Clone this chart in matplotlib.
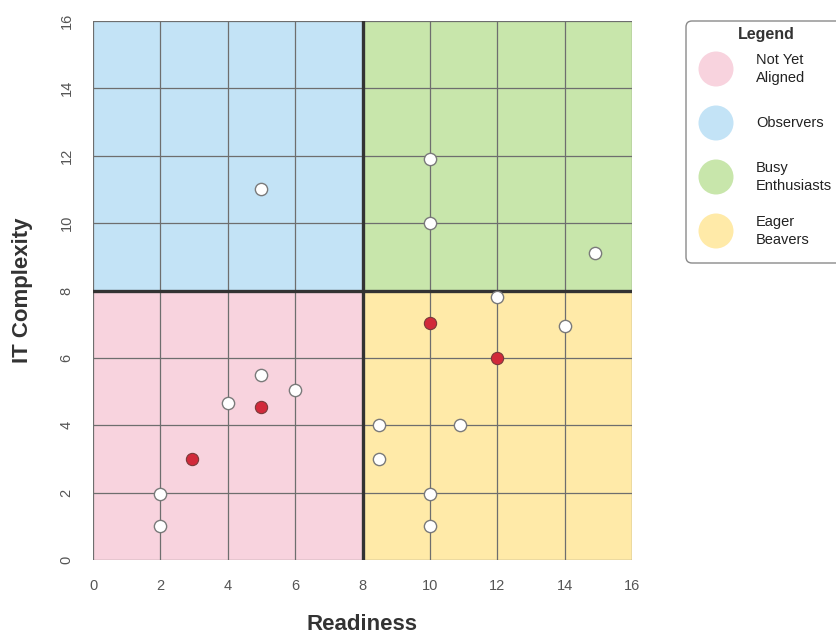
import matplotlib

matplotlib.use("Agg")
import matplotlib.pyplot as plt
from matplotlib.patches import Circle, FancyBboxPatch, Rectangle

plt.rcParams["font.family"] = ["Liberation Sans", "DejaVu Sans"]

# 四个象限：名称、颜色、范围 (x0, y0)
quadrant_names = ["Not Yet\nAligned", "Observers", "Busy\nEnthusiasts", "Eager\nBeavers"]
quadrant_colors = ["#f8d3de", "#c3e3f6", "#c8e6ab", "#ffeaa8"]
quadrant_x0 = [0, 0, 8, 8]
quadrant_y0 = [0, 8, 8, 0]

# 白色点
white_x = [5, 10, 10, 14.9, 12, 14, 8.5, 10.9, 8.5, 10, 10, 5, 6, 4, 2, 2]
white_y = [11, 11.9, 10, 9.1, 7.8, 6.95, 4, 4, 3, 1.95, 1, 5.5, 5.05, 4.65, 1.95, 1]

# 红色点
red_x = [10, 12, 5, 2.95]
red_y = [7.05, 6, 4.55, 3]

ticks = [0, 2, 4, 6, 8, 10, 12, 14, 16]

fig = plt.figure(figsize=(8.36, 6.37), dpi=100)
ax = fig.add_axes([93 / 836, 1 - 560 / 637, 539 / 836, 539 / 637])
ax.set_xlim(0, 16)
ax.set_ylim(0, 16)

for x0, y0, color in zip(quadrant_x0, quadrant_y0, quadrant_colors):
    ax.add_patch(Rectangle((x0, y0), 8, 8, facecolor=color, edgecolor="none", zorder=0))

for t in ticks:
    ax.axvline(t, color="#6e6e6e", linewidth=0.9, zorder=1)
    ax.axhline(t, color="#6e6e6e", linewidth=0.9, zorder=1)
ax.axvline(8, color="#333333", linewidth=2.4, zorder=2)
ax.axhline(8, color="#333333", linewidth=2.4, zorder=2)

ax.scatter(white_x, white_y, s=78, facecolor="white", edgecolor="#7a7a7a",
           linewidth=1.0, zorder=3, clip_on=False)
ax.scatter(red_x, red_y, s=78, facecolor="#d1293a", edgecolor="#7a3a3a",
           linewidth=0.8, zorder=3, clip_on=False)

for spine in ax.spines.values():
    spine.set_visible(False)
ax.set_xticks(ticks)
ax.set_yticks(ticks)
ax.tick_params(length=0, labelsize=10.5, labelcolor="#555555", pad=14)
for label in ax.get_yticklabels():
    label.set_rotation(90)
    label.set_va("center")

ax.set_xlabel("Readiness", fontsize=16, fontweight="bold", color="#333333", labelpad=15)
ax.set_ylabel("IT Complexity", fontsize=16, fontweight="bold", color="#333333", labelpad=19)

# 图例（手工绘制）
legend_ax = fig.add_axes([0, 0, 1, 1], facecolor="none")
legend_ax.set_xlim(0, 836)
legend_ax.set_ylim(637, 0)
legend_ax.axis("off")
legend_ax.add_patch(
    FancyBboxPatch((686, 21), 160, 242, boxstyle="round,pad=0,rounding_size=6",
                   facecolor="white", edgecolor="#8a8a8a", linewidth=1.0)
)
legend_ax.text(766, 35, "Legend", ha="center", va="center", fontsize=11.5,
               fontweight="bold", color="#333333")
for i, (name, color) in enumerate(zip(quadrant_names, quadrant_colors)):
    cy = 69 + i * 54
    legend_ax.add_patch(Circle((716, cy), 17.5, facecolor=color, edgecolor="none"))
    legend_ax.text(756, cy, name, ha="left", va="center", fontsize=10.5,
                   color="#222222", linespacing=1.35)

fig.savefig("out.png", dpi=100)
